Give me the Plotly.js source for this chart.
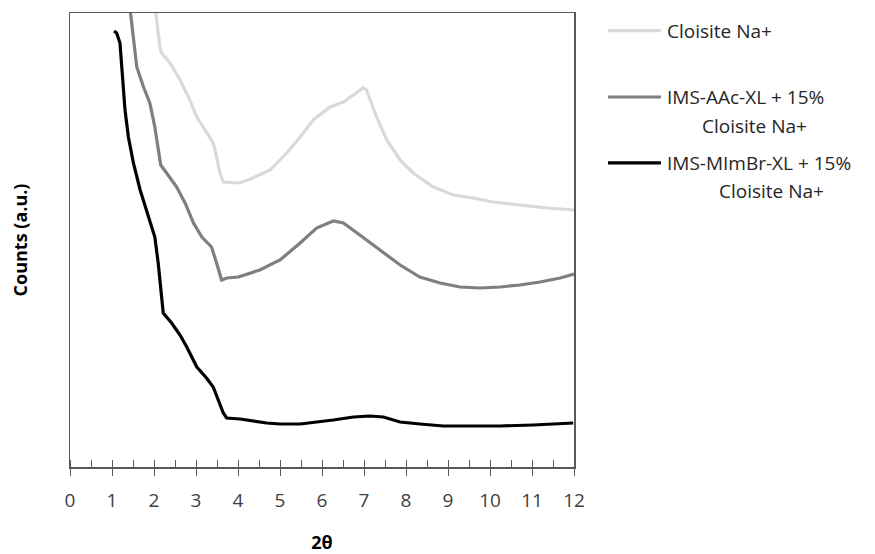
<!DOCTYPE html>
<html>
<head>
<meta charset="utf-8">
<script src="https://cdn.plot.ly/plotly-3.0.1.min.js"></script>
<style>
  html, body { margin: 0; padding: 0; background: #ffffff; }
  #chart { width: 875px; height: 554px; }
</style>
</head>
<body>
<div id="chart"></div>
<script>
// XRD patterns, 2θ in degrees vs. counts (arbitrary units)
const seriesNames = [
  "Cloisite Na+",
  "IMS-AAc-XL + 15%<br>Cloisite Na+",
  "IMS-MImBr-XL + 15%<br>Cloisite Na+"
];

const cloisiteX = [1.98, 2.10, 2.14, 2.18, 2.38, 2.62, 2.82, 3.02, 3.25, 3.41, 3.49, 3.57, 3.65, 3.89, 4.05, 4.36, 4.76, 5.16, 5.48, 5.79, 6.19, 6.51, 6.75, 6.98, 7.06, 7.30, 7.54, 7.86, 8.17, 8.65, 9.13, 9.60, 10.07, 10.71, 11.35, 12.0];
const cloisiteY = [477, 437, 420, 414, 404, 387, 370, 350, 334, 324, 310, 294, 285, 284, 284, 289, 297, 314, 330, 347, 360, 365, 372, 379, 377, 350, 327, 307, 294, 280, 272, 269, 265, 262, 259, 257];

const aacX = [1.35, 1.51, 1.59, 1.75, 1.90, 2.02, 2.10, 2.16, 2.30, 2.54, 2.74, 2.94, 3.14, 3.37, 3.49, 3.61, 3.73, 4.01, 4.52, 5.0, 5.48, 5.87, 6.27, 6.51, 6.90, 7.38, 7.86, 8.33, 8.81, 9.29, 9.76, 10.24, 10.71, 11.19, 11.67, 12.0];
const aacY = [487, 424, 400, 380, 364, 340, 320, 302, 294, 280, 264, 244, 230, 220, 204, 187, 189, 190, 197, 207, 224, 239, 246, 244, 232, 217, 202, 190, 184, 180, 179, 180, 182, 185, 189, 193];

const mimbrX = [1.05, 1.11, 1.19, 1.25, 1.31, 1.39, 1.51, 1.67, 1.86, 2.02, 2.10, 2.17, 2.21, 2.22, 2.42, 2.62, 2.78, 3.02, 3.25, 3.41, 3.53, 3.65, 3.73, 4.05, 4.68, 5.0, 5.48, 5.95, 6.27, 6.75, 7.14, 7.46, 7.86, 8.33, 8.89, 9.44, 10.24, 11.03, 11.98];
const mimbrY = [436, 434, 424, 390, 357, 330, 304, 277, 250, 230, 204, 177, 157, 154, 144, 132, 120, 100, 89, 80, 67, 54, 49, 48, 44, 43, 43, 45, 47, 50, 51, 50, 45, 43, 41, 41, 41, 42, 44];

const xTickVals = [0, 1, 2, 3, 4, 5, 6, 7, 8, 9, 10, 11, 12];
const xTickText = ["0", "1", "2", "3", "4", "5", "6", "7", "8", "9", "10", "11", "12"];

const lineColors = ["#d9d9d9", "#7f7f7f", "#000000"];
const FONT = "Open Sans, Liberation Sans, sans-serif";
const AXIS_GREY = "#595959";

const traces = [
  { x: cloisiteX, y: cloisiteY, name: seriesNames[0] },
  { x: aacX, y: aacY, name: seriesNames[1] },
  { x: mimbrX, y: mimbrY, name: seriesNames[2] }
].map((t, i) => Object.assign(t, {
  type: "scatter",
  mode: "lines",
  line: { color: lineColors[i], width: 3.2 },
  hoverinfo: "x+y+name",
  showlegend: false
}));

// Hand-placed legend on the right: sample line + centred, wrapped label
const legendRows = [
  { y: 0.961, lines: ["Cloisite Na+"], centers: [] },
  { y: 0.815, lines: ["IMS-AAc-XL + 15%", "Cloisite Na+"], centers: [null, 1.3582] },
  { y: 0.670, lines: ["IMS-MImBr-XL + 15%", "Cloisite Na+"], centers: [null, 1.3928] }
];
const lineGap = 0.063;
const shapes = [];
const annotations = [];
legendRows.forEach((row, i) => {
  shapes.push({
    type: "line", xref: "paper", yref: "paper",
    x0: 1.0675, x1: 1.1726, y0: row.y, y1: row.y,
    line: { color: lineColors[i], width: 3.2 }
  });
  row.lines.forEach((txt, k) => {
    const isFirst = k === 0;
    annotations.push({
      xref: "paper", yref: "paper",
      x: isFirst ? 1.1805 : row.centers[k],
      xanchor: isFirst ? "left" : "center",
      y: row.y - k * lineGap, yanchor: "middle",
      text: txt, showarrow: false,
      font: { family: FONT, size: 19, color: "#262626" }
    });
  });
});

const layout = {
  width: 875, height: 554,
  margin: { l: 70, r: 301, t: 13, b: 87 },
  paper_bgcolor: "#ffffff", plot_bgcolor: "#ffffff",
  showlegend: false,
  xaxis: {
    range: [0, 12], tickmode: "array", tickvals: xTickVals, ticktext: xTickText,
    ticks: "outside", ticklen: 7, tickwidth: 1, tickcolor: AXIS_GREY,
    ticklabelstandoff: 9,
    minor: { dtick: 0.5, ticks: "inside", ticklen: 7, tickwidth: 1, tickcolor: AXIS_GREY, showgrid: false },
    showline: true, linecolor: AXIS_GREY, linewidth: 1.5, mirror: true,
    showgrid: false, zeroline: false,
    tickfont: { family: FONT, size: 19, color: "#404040" },
    title: { text: "<b>2θ</b>", font: { family: FONT, size: 18, color: "#000000" }, standoff: 28 }
  },
  // overlay axis carrying the inner half of the major (cross) tick marks
  xaxis2: {
    overlaying: "x", anchor: "y", side: "bottom",
    range: [0, 12], tickmode: "array", tickvals: xTickVals,
    ticks: "inside", ticklen: 7, tickwidth: 1, tickcolor: AXIS_GREY,
    showticklabels: false, showline: false, showgrid: false, zeroline: false
  },
  yaxis: {
    range: [0, 454], showticklabels: false, ticks: "",
    showline: true, linecolor: AXIS_GREY, linewidth: 1.5, mirror: true,
    showgrid: false, zeroline: false,
    title: { text: "<b>Counts (a.u.)</b>", font: { family: FONT, size: 18, color: "#000000" }, standoff: 36 }
  },
  shapes: shapes,
  annotations: annotations
};

// invisible carrier so the overlay axis is laid out
traces.push({ type: "scatter", mode: "lines", x: [0, 12], y: [0, 0], xaxis: "x2", yaxis: "y",
  line: { width: 0, color: "rgba(0,0,0,0)" }, hoverinfo: "skip", showlegend: false });

Plotly.newPlot("chart", traces, layout, { displayModeBar: false, staticPlot: true });
</script>
</body>
</html>
